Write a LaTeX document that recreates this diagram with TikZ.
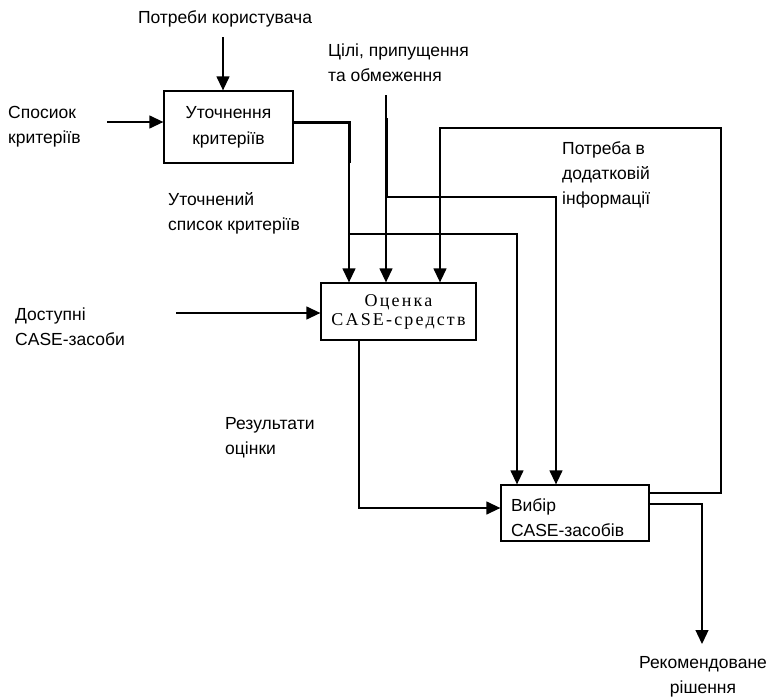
\documentclass[tikz,border=0pt]{standalone}
\usepackage{fontspec}
\setmainfont{Liberation Sans}
\newfontfamily\spacedserif[LetterSpace=12]{Liberation Serif}
\usetikzlibrary{arrows.meta}

\begin{document}
\begin{tikzpicture}[x=1pt,y=-1pt,
  lbl/.style={inner sep=0pt, font=\fontsize{17.5}{25}\selectfont, align=left},
  proc/.style={draw, line width=1.3pt, inner sep=0pt},
  flow/.style={line width=1.3pt, -{Triangle[length=14pt,width=13pt]}},
  heavy/.style={line width=3pt}]
\useasboundingbox[fill=white] (0,0) rectangle (769,699);

% activity boxes
\node[proc, minimum width=129pt, minimum height=72pt, align=center,
      font=\fontsize{17.5}{26}\selectfont] (refine) at (228.5,127) {Уточнення\\критеріїв};
\node[proc, minimum width=155pt, minimum height=57pt, align=center,
      font=\spacedserif\fontsize{18}{19}\selectfont] (evalbox) at (398.5,311.5) {Оценка\\CASE-средств};
\node[proc, minimum width=148pt, minimum height=56pt, align=left, text width=128pt,
      font=\fontsize{17.5}{25}\selectfont] (select) at (575,513) {\rule{0pt}{22pt}Вибір\\CASE-засобів};

% labels
\node[lbl, align=center] (needs) at (225,19) {Потреби користувача};
\node[lbl, anchor=west] (crit) at (8,127) {Спосиок\\критеріїв};
\node[lbl, anchor=west] (goals) at (328,63) {Цілі, припущення\\та обмеження};
\node[lbl, anchor=west] (refined) at (168,213.5) {Уточнений\\список критеріїв};
\node[lbl, anchor=west] (extra) at (562,175) {Потреба в\\додатковій\\інформації};
\node[lbl, anchor=west] (avail) at (15,327) {Доступні\\CASE-засоби};
\node[lbl, anchor=west] (results) at (225,437.5) {Результати\\оцінки};
\node[lbl, align=center] (recommended) at (703,677) {Рекомендоване\\рішення};

% free ends and bends of the flows
\coordinate (needsIn) at (223,37);
\coordinate (critIn) at (107,122);
\coordinate (goalsIn) at (386,95);
\coordinate (goalsHeavy) at (386,118);
\coordinate (availIn) at (176,313);
\coordinate (refOut) at (349,122);
\coordinate (refHeavyEnd) at (349,163);
\coordinate (refSplit) at (349,234);
\coordinate (refToSel) at (517,234);
\coordinate (goalsSplit) at (386,197);
\coordinate (goalsToSel) at (556,197);
\coordinate (fbOut) at (721,493);
\coordinate (fbTop) at (721,128);
\coordinate (fbIn) at (440,128);
\coordinate (evalOut) at (359,340);
\coordinate (evalBend) at (359,508);
\coordinate (recOut) at (702,504);
\coordinate (recEnd) at (702,644);

% inputs of the first box
\draw[flow] (needsIn) -- (needsIn |- refine.north);
\draw[flow] (critIn) -- (critIn -| refine.west);

% refined criteria to both later boxes
\draw[flow] (refine.east |- refOut) -- (refOut) -- (refOut |- evalbox.north);
\draw[heavy] (refine.east |- refOut) -- (refOut) -- (refHeavyEnd);
\draw[flow] (refSplit) -- (refToSel) -- (refToSel |- select.north);

% goals, assumptions and constraints
\draw[flow] (goalsIn) -- (goalsIn |- evalbox.north);
\draw[heavy] (goalsHeavy) -- (goalsSplit);
\draw[flow] (goalsSplit) -- (goalsToSel) -- (goalsToSel |- select.north);

% feedback loop for additional information
\draw[flow] (select.east |- fbOut) -- (fbOut) -- (fbTop) -- (fbIn) -- (fbIn |- evalbox.north);

% available tools
\draw[flow] (availIn) -- (availIn -| evalbox.west);

% evaluation results
\draw[flow] (evalOut |- evalbox.south) -- (evalBend) -- (evalBend -| select.west);

% recommended solution
\draw[flow] (select.east |- recOut) -- (recOut) -- (recEnd);
\end{tikzpicture}
\end{document}
